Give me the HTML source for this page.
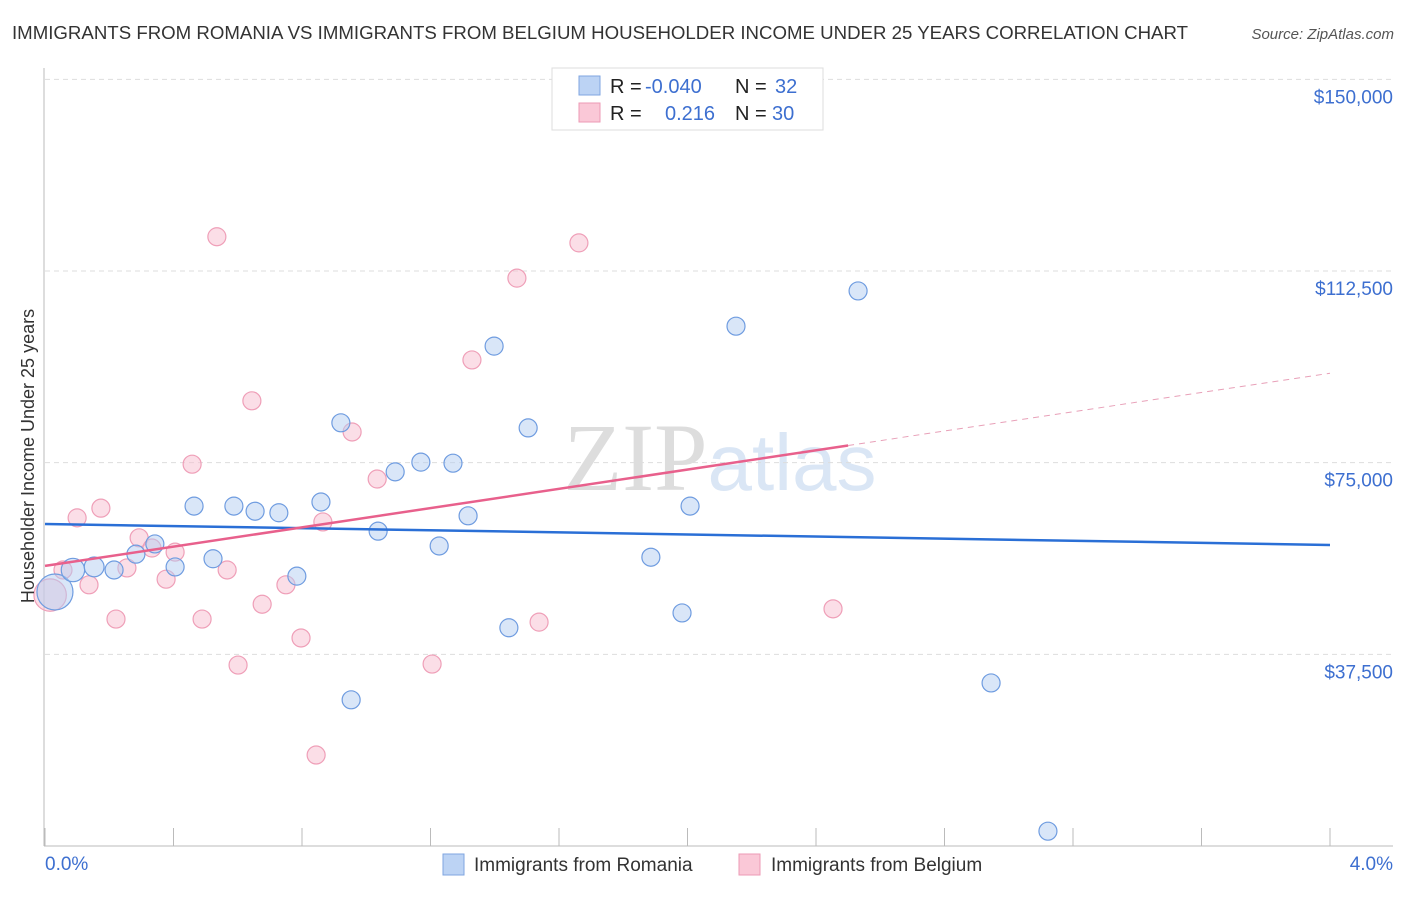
<!DOCTYPE html>
<html><head><meta charset="utf-8"><style>
body{margin:0;background:#fff;font-family:"Liberation Sans",sans-serif}
</style></head><body>
<svg id="chart" width="1406" height="892" xmlns="http://www.w3.org/2000/svg" font-family="Liberation Sans, sans-serif">
<text x="12" y="39" font-size="18" fill="#333" textLength="1176" lengthAdjust="spacingAndGlyphs">IMMIGRANTS FROM ROMANIA VS IMMIGRANTS FROM BELGIUM HOUSEHOLDER INCOME UNDER 25 YEARS CORRELATION CHART</text>
<text x="1394" y="39" font-size="15" fill="#555" font-style="italic" text-anchor="end">Source: ZipAtlas.com</text>
<text x="720" y="490" font-size="96" text-anchor="middle" font-family="Liberation Serif, serif"><tspan fill="#ddd">ZIP</tspan><tspan fill="#dae6f5" font-family="Liberation Sans, sans-serif" font-size="80">atlas</tspan></text>
<g id="grid"></g>
<g id="axes"></g>
<g id="pts"></g>
<g id="trends"></g>
<text transform="translate(34,456) rotate(-90)" font-size="18" fill="#333" text-anchor="middle">Householder Income Under 25 years</text>
<text x="45" y="870" font-size="19" fill="#3d6fd0">0.0%</text>
<text x="1393" y="870" font-size="19" fill="#3d6fd0" text-anchor="end">4.0%</text>
<g>
<rect x="552" y="68" width="271" height="62" fill="#fff" stroke="#ddd"/>
<rect x="579" y="76" width="21" height="19" fill="#bcd3f4" stroke="#7fa6e0"/>
<rect x="579" y="103" width="21" height="19" fill="#fac8d7" stroke="#ec9ab4"/>
<text x="610" y="93" font-size="20" fill="#222">R = <tspan fill="#3d6fd0" x="645">-0.040</tspan><tspan x="735">N = </tspan><tspan fill="#3d6fd0" x="775">32</tspan></text>
<text x="610" y="120" font-size="20" fill="#222">R = <tspan fill="#3d6fd0" x="665">0.216</tspan><tspan x="735">N = </tspan><tspan fill="#3d6fd0" x="772">30</tspan></text>
</g>
<g>
<rect x="443" y="854" width="21" height="21" fill="#bcd3f4" stroke="#7fa6e0"/>
<text x="474" y="871" font-size="19" fill="#333">Immigrants from Romania</text>
<rect x="739" y="854" width="21" height="21" fill="#fac8d7" stroke="#ec9ab4"/>
<text x="771" y="871" font-size="19" fill="#333">Immigrants from Belgium</text>
</g>
</svg>
<script>
const yTicks=[37500,75000,112500,150000];
const yTickLabels=["$37,500","$75,000","$112,500","$150,000"];
const xTicks=[0,0.4,0.8,1.2,1.6,2.0,2.4,2.8,3.2,3.6,4.0];
const romaniaX=[0.031,0.087,0.153,0.215,0.283,0.342,0.405,0.464,0.523,0.588,0.654,0.728,0.784,0.859,0.921,0.953,1.037,1.090,1.170,1.227,1.270,1.317,1.398,1.444,1.504,1.886,1.983,2.008,2.151,2.531,2.945,3.122];
const romaniaY=[49700,54000,54600,54000,57100,59100,54600,66500,56200,66500,65500,65200,52800,67300,82800,28600,61600,73200,75100,58700,74900,64600,97800,42700,81800,56500,45600,66500,101700,108600,31900,2900];
const romaniaSize=[20,13,11,10,10,10,10,10,10,10,10,10,10,10,10,10,10,10,10,10,10,10,10,10,10,10,10,10,10,10,10,10];
const belgiumX=[0.016,0.056,0.100,0.137,0.174,0.221,0.255,0.293,0.333,0.377,0.405,0.458,0.489,0.535,0.567,0.601,0.644,0.676,0.750,0.797,0.844,0.865,0.956,1.034,1.205,1.329,1.469,1.538,1.662,2.453];
const belgiumY=[49100,54000,64200,51100,66100,44400,54400,60300,58300,52200,57500,74700,44400,119200,54000,35400,87100,47300,51100,40700,17800,63400,81000,71800,35600,95100,111100,43800,118000,46400];
const belgiumSize=[18,10,10,10,10,10,10,10,10,10,10,10,10,10,10,10,10,10,10,10,10,10,10,10,10,10,10,10,10,10];
const romaniaTrend=[63000,58900];
const belgiumTrend=[54800,92500];
const belgiumSolidEnd=2.5;

const X=v=>45+v/4*1285;
const Y=v=>846-v/37500*191.67;
const NS="http://www.w3.org/2000/svg";
function mk(parent,tag,attrs){const e=document.createElementNS(NS,tag);for(const k in attrs)e.setAttribute(k,attrs[k]);document.getElementById(parent).appendChild(e);return e;}
yTicks.forEach((t,i)=>{
  const l=mk('grid','line',{x1:45,x2:1393,y1:Y(t),y2:Y(t),stroke:'#ddd','stroke-dasharray':'5,4'});
  
  
  const tx=mk('grid','text',{x:1393,y:Y(t)+24,'font-size':19,fill:'#3d6fd0','text-anchor':'end'});
  tx.textContent=yTickLabels[i];
  
  
});
const ya=mk('axes','line',{x1:44,x2:44,y1:68,y2:846,stroke:'#bbb'});


const xa=mk('axes','line',{x1:44,x2:1393,y1:846,y2:846,stroke:'#bbb'});


xTicks.forEach(t=>{
  const l=mk('axes','line',{x1:X(t),x2:X(t),y1:828,y2:846,stroke:'#bbb'});
  
  
});
belgiumX.forEach((x,i)=>{
  const c=mk('pts','circle',{cx:X(x),cy:Y(belgiumY[i]),r:belgiumSize[i]*0.9,fill:'rgba(248,190,208,0.5)',stroke:'#ef9fb8','stroke-width':1.2});
  
  
});
romaniaX.forEach((x,i)=>{
  const c=mk('pts','circle',{cx:X(x),cy:Y(romaniaY[i]),r:romaniaSize[i]*0.9,fill:'rgba(180,205,242,0.5)',stroke:'#6f9ce0','stroke-width':1.2});
  
  
});
const bt=mk('trends','line',{x1:X(0),y1:Y(romaniaTrend[0]),x2:X(4),y2:Y(romaniaTrend[1]),stroke:'#2a6fd6','stroke-width':2.5});


const pAt=x=>belgiumTrend[0]+(belgiumTrend[1]-belgiumTrend[0])*x/4;
const pt=mk('trends','line',{x1:X(0),y1:Y(pAt(0)),x2:X(belgiumSolidEnd),y2:Y(pAt(belgiumSolidEnd)),stroke:'#e8608c','stroke-width':2.5});


const pd=mk('trends','line',{x1:X(belgiumSolidEnd),y1:Y(pAt(belgiumSolidEnd)),x2:X(4),y2:Y(pAt(4)),stroke:'#e8a0b8','stroke-width':1,'stroke-dasharray':'6,5'});


</script>
</body></html>
